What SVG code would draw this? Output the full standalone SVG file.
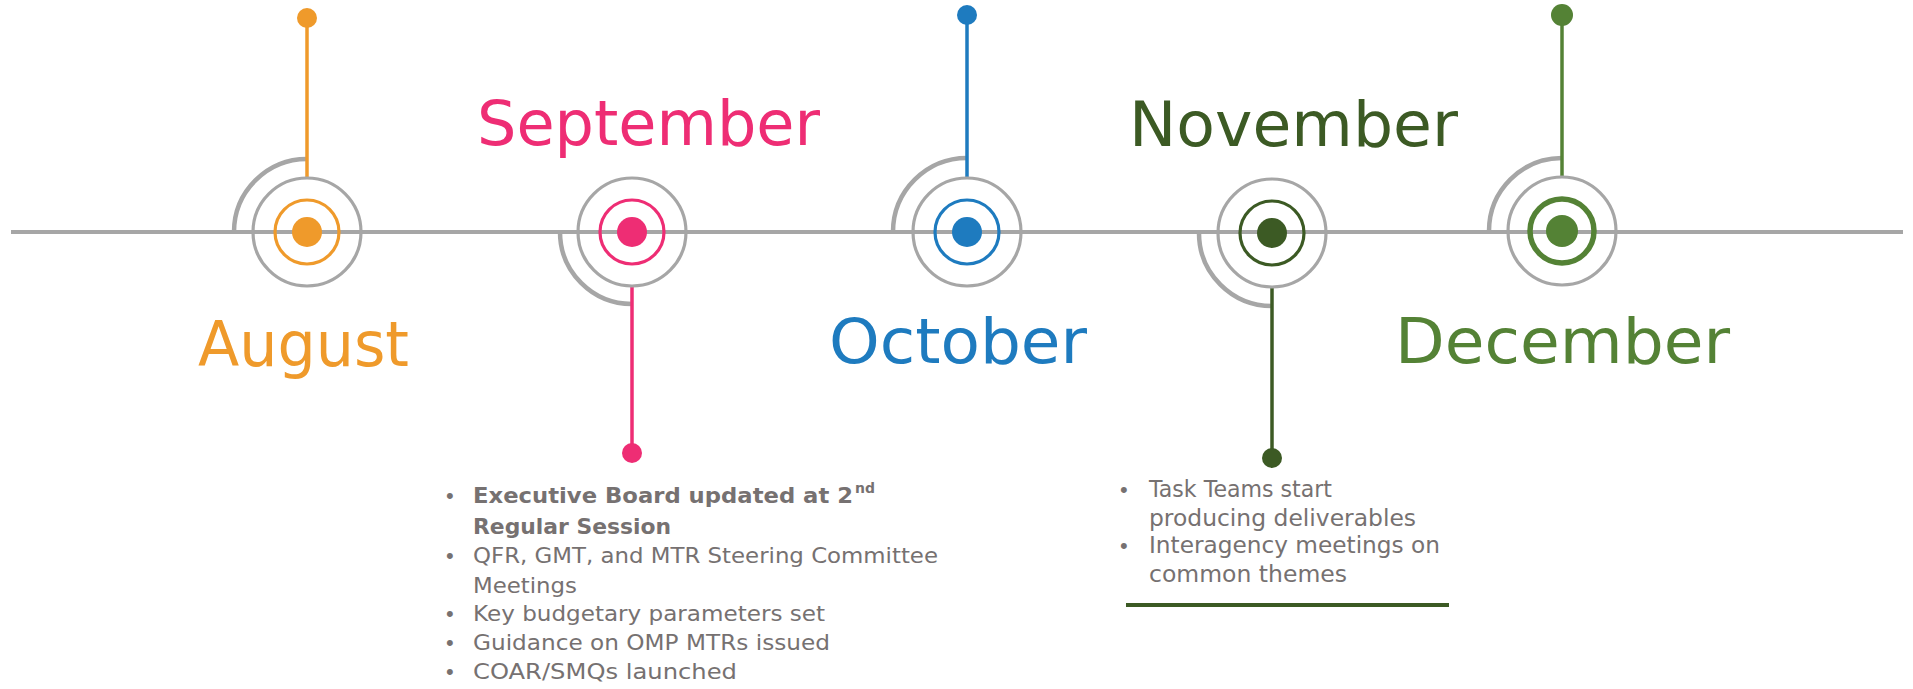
<svg xmlns="http://www.w3.org/2000/svg" width="1913" height="689" viewBox="0 0 1913 689">
<style>
.bg{fill:#ffffff}
.tl{stroke:#A6A6A6;stroke-width:4;fill:none}
.ring{stroke:#A6A6A6;stroke-width:3.2;fill:none}
.arc{stroke:#A6A6A6;stroke-width:4.5;fill:none}
.month{font-family:"DejaVu Sans","Liberation Sans",sans-serif;font-size:62px}
.txt{font-family:"DejaVu Sans","Liberation Sans",sans-serif;font-size:22px;fill:#767171}
.nov{font-size:23px}
.sup{font-size:14px}
.b{font-weight:bold}
.bul{font-family:"Liberation Sans",sans-serif;font-size:22px;fill:#767171}
</style>
<rect class="bg" x="0" y="0" width="1913" height="689"/>
<g id="connectors">
<line class="tl" x1="11" y1="232" x2="1903" y2="232"/>
</g>
<g id="august">
<path class="arc" d="M234 232 A73 73 0 0 1 307 159"/>
<line x1="307" y1="18" x2="307" y2="179" stroke="#EF9A2B" stroke-width="3.5"/>
<circle cx="307" cy="18" r="10" fill="#EF9A2B"/>
<circle class="ring" cx="307" cy="232" r="54"/>
<circle cx="307" cy="232" r="32" fill="none" stroke="#EF9A2B" stroke-width="3.2"/>
<circle cx="307" cy="232" r="15" fill="#EF9A2B"/>
<text class="month" x="198" y="366" fill="#EF9A2B" textLength="211" lengthAdjust="spacingAndGlyphs">August</text>
</g>
<g id="september">
<path class="arc" d="M560 232 A72 72 0 0 0 632 304"/>
<line x1="632" y1="286" x2="632" y2="453" stroke="#EE2D74" stroke-width="3.5"/>
<circle cx="632" cy="453" r="10" fill="#EE2D74"/>
<circle class="ring" cx="632" cy="232" r="54"/>
<circle cx="632" cy="232" r="32" fill="none" stroke="#EE2D74" stroke-width="3.2"/>
<circle cx="632" cy="232" r="15" fill="#EE2D74"/>
<text class="month" x="477" y="145" fill="#EE2D74" textLength="343" lengthAdjust="spacingAndGlyphs">September</text>
<g id="september-notes">
<text class="bul" x="446" y="503">•</text>
<text class="txt b" x="473" y="503" textLength="380" lengthAdjust="spacingAndGlyphs">Executive Board updated at 2</text>
<text class="txt b sup" x="855" y="493" textLength="20" lengthAdjust="spacingAndGlyphs">nd</text>
<text class="txt b" x="473" y="534" textLength="198" lengthAdjust="spacingAndGlyphs">Regular Session</text>
<text class="bul" x="446" y="563">•</text>
<text class="txt" x="473" y="563" textLength="465" lengthAdjust="spacingAndGlyphs">QFR, GMT, and MTR Steering Committee</text>
<text class="txt" x="473" y="593" textLength="104" lengthAdjust="spacingAndGlyphs">Meetings</text>
<text class="bul" x="446" y="621">•</text>
<text class="txt" x="473" y="621" textLength="352" lengthAdjust="spacingAndGlyphs">Key budgetary parameters set</text>
<text class="bul" x="446" y="650">•</text>
<text class="txt" x="473" y="650" textLength="357" lengthAdjust="spacingAndGlyphs">Guidance on OMP MTRs issued</text>
<text class="bul" x="446" y="679">•</text>
<text class="txt" x="473" y="679" textLength="264" lengthAdjust="spacingAndGlyphs">COAR/SMQs launched</text>
</g>
</g>
<g id="october">
<path class="arc" d="M893 232 A74 74 0 0 1 967 158"/>
<line x1="967" y1="15" x2="967" y2="178" stroke="#1E7BBF" stroke-width="3.5"/>
<circle cx="967" cy="15" r="10" fill="#1E7BBF"/>
<circle class="ring" cx="967" cy="232" r="54"/>
<circle cx="967" cy="232" r="32" fill="none" stroke="#1E7BBF" stroke-width="3.2"/>
<circle cx="967" cy="232" r="15" fill="#1E7BBF"/>
<text class="month" x="829" y="363" fill="#1E7BBF" textLength="258" lengthAdjust="spacingAndGlyphs">October</text>
</g>
<g id="november">
<path class="arc" d="M1199 233 A73 73 0 0 0 1272 306"/>
<line x1="1272" y1="287" x2="1272" y2="458" stroke="#3C5A24" stroke-width="3.5"/>
<circle cx="1272" cy="458" r="10" fill="#3C5A24"/>
<circle class="ring" cx="1272" cy="233" r="54"/>
<circle cx="1272" cy="233" r="32" fill="none" stroke="#3C5A24" stroke-width="3.2"/>
<circle cx="1272" cy="233" r="15" fill="#3C5A24"/>
<text class="month" x="1129" y="146" fill="#3C5A24" textLength="329" lengthAdjust="spacingAndGlyphs">November</text>
<g id="november-notes">
<text class="bul" x="1120" y="497">•</text>
<text class="txt nov" x="1149" y="497" textLength="183" lengthAdjust="spacingAndGlyphs">Task Teams start</text>
<text class="txt nov" x="1149" y="526" textLength="267" lengthAdjust="spacingAndGlyphs">producing deliverables</text>
<text class="bul" x="1120" y="553">•</text>
<text class="txt nov" x="1149" y="553" textLength="291" lengthAdjust="spacingAndGlyphs">Interagency meetings on</text>
<text class="txt nov" x="1149" y="582" textLength="198" lengthAdjust="spacingAndGlyphs">common themes</text>
<line x1="1126" y1="605" x2="1449" y2="605" stroke="#3C5A24" stroke-width="4"/>
</g>
</g>
<g id="december">
<path class="arc" d="M1489 231 A73 73 0 0 1 1562 158"/>
<line x1="1562" y1="15" x2="1562" y2="177" stroke="#548235" stroke-width="3.5"/>
<circle cx="1562" cy="15" r="11" fill="#548235"/>
<circle class="ring" cx="1562" cy="231" r="54"/>
<circle cx="1562" cy="231" r="32" fill="none" stroke="#548235" stroke-width="5.5"/>
<circle cx="1562" cy="231" r="16" fill="#548235"/>
<text class="month" x="1395" y="363" fill="#548235" textLength="335" lengthAdjust="spacingAndGlyphs">December</text>
</g>
</svg>
